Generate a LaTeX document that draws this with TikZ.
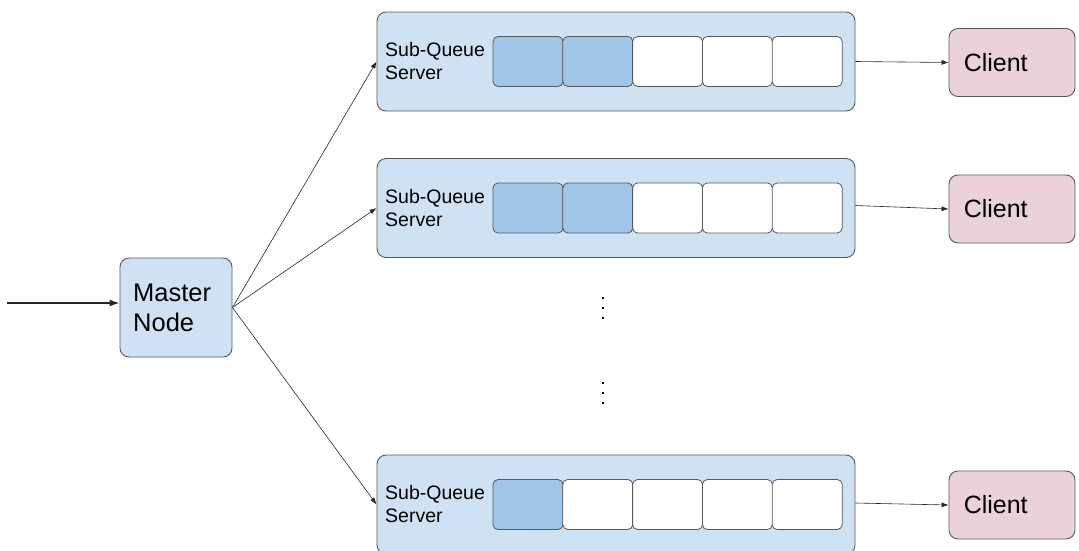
\documentclass[tikz,border=0pt]{standalone}
\usepackage{fontspec}
\setmainfont{Liberation Sans}
\usetikzlibrary{arrows.meta}
\definecolor{lblue}{HTML}{CFE2F3}
\definecolor{mblue}{HTML}{9FC5E8}
\definecolor{lpink}{HTML}{EAD1DC}
\definecolor{edge}{HTML}{595959}
\begin{document}
\begin{tikzpicture}[x=1pt,y=-1pt,
  box/.style={draw=edge,line width=0.9pt,rounded corners=9pt},
  cellbox/.style={draw=edge,line width=0.8pt,rounded corners=5pt,minimum width=70pt,minimum height=50pt,inner sep=0pt},
  conn/.style={-{Latex[length=7pt,width=5pt]},line width=0.6pt,black!85},
  dot/.style={fill=black,minimum size=2.4pt,inner sep=0pt},
  clientbox/.style={box,fill=lpink,minimum width=126pt,minimum height=68pt}]
\useasboundingbox (0,0) rectangle (1079,550);
\clip (0,0) rectangle (1079,550);
% master
\node[box,fill=lblue,minimum width=112pt,minimum height=99pt,inner sep=0pt] (master) at (176,307.5) {};
\node[anchor=west,align=left,font=\fontsize{25.5}{30}\selectfont,inner sep=0pt] (mt) at (133,308) {Master\\Node};
\coordinate (in) at (7,303);
\draw[-{Latex[length=10pt,width=7pt]},line width=1.4pt,black!85] (in) -- (master.west|-in);
% servers
\foreach \i/\y/\n in {1/61.5/2,2/208/2,3/504.5/1}{
  \node[box,fill=lblue,minimum width=478pt,minimum height=99pt,inner sep=0pt] (s\i) at (616,\y) {};
  \node[anchor=west,align=left,font=\fontsize{19.5}{23}\selectfont,inner sep=0pt] (t\i) at (385,\y) {Sub-Queue\\Server};
  \foreach \k in {1,...,5}{
    \pgfmathsetmacro{\cx}{493+35+(\k-1)*69.8}
    \ifnum\k>\n
      \node[cellbox,fill=white] (c\i\k) at (\cx,\y) {};
    \else
      \node[cellbox,fill=mblue] (c\i\k) at (\cx,\y) {};
    \fi
  }
}
% clients
\node[clientbox] (cl1) at (1012,62.5) {};
\node[clientbox] (cl2) at (1012,209) {};
\node[clientbox] (cl3) at (1012,505) {};
\foreach \c in {1,2,3}
  \node[anchor=west,font=\fontsize{25}{30}\selectfont,inner sep=0pt] (ct\c) at ([xshift=15pt]cl\c.west) {Client};
% connectors
\draw[conn] (master.east) -- (s1.west);
\draw[conn] (master.east) -- (s2.west);
\draw[conn] (master.east) -- (s3.west);
\draw[conn] (s1.east) -- (cl1.west);
\draw[conn] (s2.east|-0,205.5) -- (cl2.west);
\draw[conn] (s3.east|-0,503) -- (cl3.west);
% dots
\foreach \j/\yy in {1/298,2/308,3/318,4/383,5/393,6/403}
  \node[dot] (d\j) at (603,\yy) {};
\end{tikzpicture}
\end{document}
